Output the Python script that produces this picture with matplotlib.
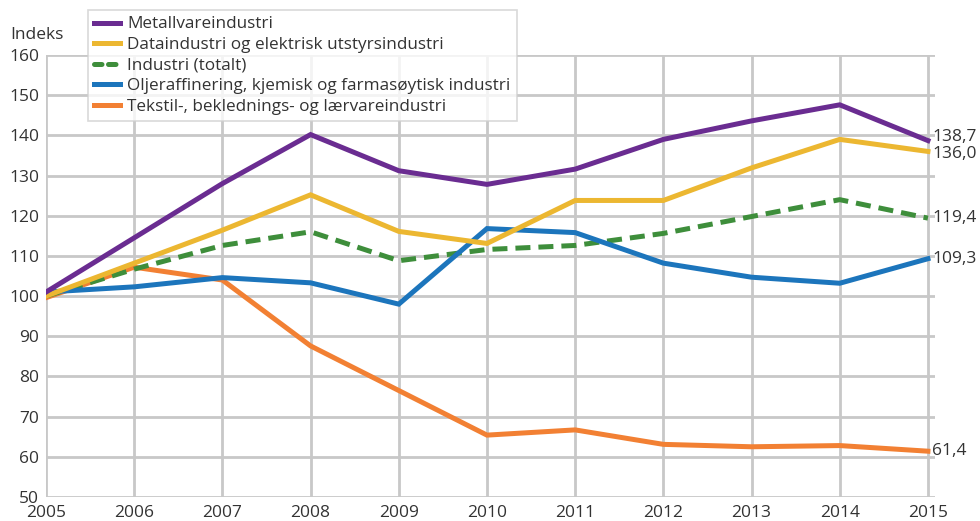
import matplotlib
matplotlib.use("Agg")
import matplotlib.pyplot as plt
from matplotlib.lines import Line2D

plt.rcParams['font.family'] = ['Open Sans', 'DejaVu Sans']

years = list(range(2005, 2016))

metall = [101.0, 114.5, 128.0, 140.2, 131.2, 127.8, 131.6, 139.0, 143.6, 147.6, 138.7]
data_el = [100.0, 108.2, 116.4, 125.2, 116.1, 113.1, 123.8, 123.8, 131.9, 139.0, 136.0]
industri = [100.0, 106.7, 112.6, 116.0, 108.8, 111.6, 112.6, 115.6, 119.8, 124.0, 119.4]
olje = [101.0, 102.3, 104.6, 103.3, 98.0, 116.8, 115.8, 108.2, 104.7, 103.2, 109.3]
tekstil = [99.6, 107.2, 104.0, 87.6, 76.5, 65.4, 66.7, 63.1, 62.5, 62.8, 61.4]

labels = ["Metallvareindustri",
          "Dataindustri og elektrisk utstyrsindustri",
          "Industri (totalt)",
          "Oljeraffinering, kjemisk og farmasøytisk industri",
          "Tekstil-, beklednings- og lærvareindustri"]
end_labels = ["138,7", "136,0", "119,4", "109,3", "61,4"]
yticks = list(range(50, 161, 10))

colors = ["#6a2c91", "#ecb731", "#3e8e3b", "#1c75bc", "#f28033"]
label_shift = [4, -3, 0, 0, 0]   # pixels, to keep the end labels apart
zorders = [6, 5, 3, 4, 2]
text_color = "#333333"
grid_color = "#c8c8c8"

fig = plt.figure(figsize=(9.8, 5.21), dpi=100)
ax = fig.add_axes([46 / 980, 1 - 497 / 521, (935 - 46) / 980, (497 - 55) / 521])

series = [metall, data_el, industri, olje, tekstil]
handles = []
for vals, lab, col, z in zip(series, labels, colors, zorders):
    if lab == "Industri (totalt)":
        ax.plot(years, vals, color=col, lw=3.6, zorder=z,
                dashes=(3.0, 1.6), dash_capstyle='butt')
        # legend shows two short rounded dashes
        handles.append(Line2D([], [], color=col, lw=3.6, dashes=(1.5, 1.3),
                              dash_capstyle='round'))
    else:
        ln, = ax.plot(years, vals, color=col, lw=3.6, zorder=z,
                      solid_joinstyle='miter')
        handles.append(ln)

for vals, txt, dy in zip(series, end_labels, label_shift):
    ax.annotate(txt, (years[-1], vals[-1]), xytext=(3, dy * 0.72),
                textcoords='offset points', ha='left', va='center',
                fontsize=12.5, color=text_color, annotation_clip=False)

ax.set_xlim(2005, 2015.08)
ax.set_ylim(50, 160)
ax.set_yticks(yticks)
ax.set_xticks(years)
for y in yticks:
    ax.axhline(y, color=grid_color, lw=2, zorder=1)
for x in years:
    ax.axvline(x, color=grid_color, lw=2, zorder=1)

for s in ax.spines.values():
    s.set_visible(False)
ax.tick_params(length=0, labelsize=12.5, labelcolor=text_color)
ax.tick_params(axis='y', pad=5)
ax.tick_params(axis='x', pad=5.5)

fig.text(10 / 980, 1 - 35 / 521, "Indeks", fontsize=12.5, color=text_color,
         va='center', ha='left')

leg = fig.legend(handles, labels, loc='upper left',
                 bbox_to_anchor=(88 / 980, 1 - 10 / 521),
                 bbox_transform=fig.transFigure, fontsize=12.3,
                 handlelength=1.5, handletextpad=0.4, labelspacing=0.27,
                 borderpad=0.38, borderaxespad=0, frameon=True, fancybox=False,
                 labelcolor=text_color)
leg.get_frame().set_edgecolor("#d0d0d0")
leg.get_frame().set_linewidth(1.2)
leg.set_zorder(10)

fig.savefig("out.png", dpi=100)
